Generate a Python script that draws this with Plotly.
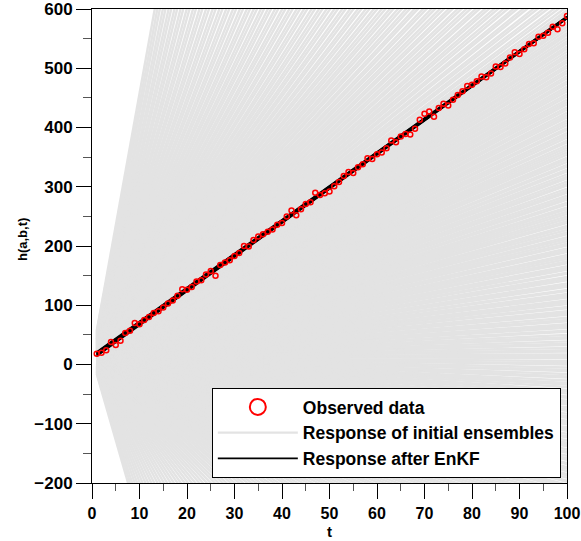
import plotly.graph_objects as go

# ---------------- data ----------------
T_OBS = list(range(1, 101))
H_OBS = [18, 20, 24, 38, 33, 40, 53, 57, 70, 68,
         75, 80, 87, 90, 96, 103, 108, 116, 127, 126,
         131, 140, 142, 152, 158, 150, 168, 172, 176, 183,
         188, 200, 199, 210, 216, 220, 224, 228, 236, 239,
         250, 260, 252, 262, 271, 274, 290, 286, 289, 292,
         301, 308, 318, 325, 323, 333, 338, 348, 347, 355,
         358, 365, 378, 375, 385, 389, 388, 398, 413, 423,
         427, 418, 433, 440, 437, 447, 455, 461, 470, 472,
         478, 486, 485, 491, 503, 502, 508, 518, 527, 524,
         532, 541, 542, 553, 555, 560, 570, 566, 576, 588]

T_START, T_END = 1, 100

# initial ensemble: common intercept, slopes read as a fan
A_INIT = 12
B_INIT_MID = [-2.18, -2.15, -2.10, -2.08, -2.03, -1.99, -1.97, -1.92, -1.88, -1.85, -1.80, -1.78, -1.73, -1.70,
              -1.66, -1.61, -1.59, -1.55, -1.50, -1.47, -1.44, -1.40, -1.35, -1.33, -1.29, -1.24, -1.21, -1.18,
              -1.13, -1.10, -1.07, -1.02, -0.99, -0.95, -0.90, -0.88, -0.84, -0.79, -0.76, -0.73, -0.68, -0.66,
              -0.61, -0.57, -0.55, -0.50, -0.46, -0.43, -0.39, -0.34, -0.32, -0.28, -0.23, -0.21, -0.17, -0.12,
              -0.10, -0.06, -0.01, 0.02, 0.05, 0.10, 0.12, 0.16, 0.21, 0.23, 0.27, 0.32, 0.34, 0.38, 0.43, 0.45,
              0.50, 0.53, 0.56, 0.61, 0.63, 0.67, 0.72, 0.75, 0.78, 0.83, 0.85, 0.90, 0.93, 0.96, 1.01, 1.04,
              1.07, 1.12, 1.14, 1.19, 1.22, 1.25, 1.30, 1.33, 1.36, 1.41, 1.43, 1.48, 1.51, 1.54, 1.59, 1.62,
              1.66, 1.70, 1.73, 1.78, 1.81, 1.84, 1.89, 1.92, 1.96, 2.00, 2.03, 2.08, 2.11, 2.15, 2.19, 2.22,
              2.27, 2.30, 2.34, 2.38, 2.42, 2.46, 2.50, 2.53, 2.58, 2.61, 2.66, 2.69, 2.73, 2.78, 2.81, 2.85,
              2.90, 2.93, 2.97, 3.02, 3.05, 3.09, 3.14, 3.17, 3.22, 3.25, 3.30, 3.34, 3.37, 3.42, 3.46, 3.50,
              3.54, 3.58, 3.63, 3.66, 3.71, 3.75, 3.79, 3.84, 3.87, 3.92, 3.96, 4.00, 4.05, 4.09, 4.13, 4.18,
              4.22, 4.27, 4.31, 4.35, 4.40, 4.44, 4.49, 4.53, 4.57, 4.62, 4.66, 4.71, 4.75, 4.80, 4.84, 4.89,
              4.93, 4.98, 5.02, 5.07, 5.11, 5.16, 5.21, 5.25, 5.30, 5.34, 5.39, 5.44, 5.48, 5.53, 5.58, 5.62,
              5.67, 5.72, 5.76, 5.81, 5.86]
B_INIT_UP = [5.92, 5.99, 6.05, 6.13, 6.19, 6.27, 6.33, 6.42, 6.48, 6.57, 6.63, 6.72, 6.79, 6.88, 6.95, 7.04,
             7.11, 7.21, 7.28, 7.38, 7.46, 7.56, 7.64, 7.75, 7.83, 7.94, 8.03, 8.14, 8.23, 8.35, 8.44, 8.57,
             8.66, 8.79, 8.89, 9.02, 9.13, 9.27, 9.38, 9.52, 9.64, 9.79, 9.91, 10.07, 10.20, 10.37, 10.50,
             10.68, 10.82, 11.01, 11.16, 11.36, 11.52, 11.73, 11.90, 12.12, 12.30, 12.53, 12.72, 12.97, 13.17,
             13.43, 13.64, 13.92, 14.15, 14.44, 14.68, 15.00, 15.26, 15.60, 15.88, 16.24, 16.54, 16.93, 17.26,
             17.68, 18.03, 18.49, 18.88, 19.38, 19.80, 20.35, 20.81, 21.41, 21.92, 22.58, 23.14, 23.87, 24.49,
             25.30, 25.98, 26.88, 27.64, 28.64, 29.49, 30.60, 31.55, 32.79, 33.86, 35.25, 36.46, 38.02, 39.40,
             41.17, 42.75, 44.5]
B_INIT_LOW = [-2.22, -2.27, -2.31, -2.36, -2.41, -2.45, -2.50, -2.55, -2.60, -2.65, -2.70, -2.76, -2.81, -2.87,
              -2.92, -2.98, -3.04, -3.10, -3.17, -3.23, -3.30, -3.37, -3.44, -3.51, -3.59, -3.66, -3.74, -3.82,
              -3.91, -3.99, -4.08, -4.17, -4.27, -4.36, -4.46, -4.57, -4.67, -4.78, -4.90, -5.01, -5.14, -5.26,
              -5.40, -5.53, -5.68, -5.82, -5.98, -6.14, -6.31, -6.48, -6.67, -6.85, -7.06, -7.26, -7.49, -7.71,
              -7.96, -8.21, -8.49, -8.77, -9.08, -9.39, -9.74, -10.09, -10.48, -10.88, -11.33, -11.78, -12.29,
              -12.81, -13.40, -14.00, -14.68, -15.38, -16.17, -16.98, -17.90, -18.85, -19.92, -21.03, -22.28,
              -23.57, -25.02, -26.40, -27.9]

# ensemble after EnKF (intercept, slope pairs)
A_ENKF = [8.5, 9.5, 10.5, 11.5, 12.5, 13.5, 14.5, 15.5, 11.0, 13.0]
B_ENKF = [5.755, 5.750, 5.745, 5.740, 5.735, 5.730, 5.725, 5.720, 5.750, 5.715]

X_TICKS = [0, 10, 20, 30, 40, 50, 60, 70, 80, 90, 100]
Y_TICKS = [-200, -100, 0, 100, 200, 300, 400, 500, 600]
X_TITLE = "t"
Y_TITLE = "h(a,b,t)"

# ---------------- build ----------------
FONT = "Liberation Sans, Arial, Helvetica, sans-serif"


def lines_xy(intercepts, slopes):
    xs, ys = [], []
    for a, b in zip(intercepts, slopes):
        xs += [T_START, T_END, None]
        ys += [a + b * T_START, a + b * T_END, None]
    return xs, ys


b_all = B_INIT_LOW + B_INIT_MID + B_INIT_UP
gx, gy = lines_xy([A_INIT] * len(b_all), b_all)
ex, ey = lines_xy(A_ENKF, B_ENKF)

fig = go.Figure()
fig.add_trace(go.Scatter(x=gx, y=gy, mode="lines", name="Response of initial ensembles",
                         line=dict(color="#e3e3e3", width=2.4), legendrank=2, hoverinfo="skip"))
fig.add_trace(go.Scatter(x=ex, y=ey, mode="lines", name="Response after EnKF",
                         line=dict(color="black", width=1.8), legendrank=3))
fig.add_trace(go.Scatter(x=T_OBS, y=H_OBS, mode="markers", name="Observed data", showlegend=False,
                         marker=dict(symbol="circle-open", size=5, color="#ff0000", line=dict(width=1.5))))
fig.add_trace(go.Scatter(x=[None], y=[None], mode="markers", name="Observed data", legendrank=1,
                         marker=dict(symbol="circle-open", size=16, color="#ff0000", line=dict(width=2))))

axis_common = dict(showline=True, linecolor="black", linewidth=1, mirror=True, showgrid=False,
                   zeroline=False, ticks="outside", ticklen=15, tickwidth=1, tickcolor="black",
                   automargin=False, ticklabeloverflow="allow")

fig.update_xaxes(range=[0, 100], tickvals=X_TICKS, ticklabelstandoff=1,
                 tickfont=dict(family=FONT, size=16, color="black", weight="bold"),
                 minor=dict(ticks="outside", ticklen=7, dtick=5, tickcolor="#555", showgrid=False),
                 **axis_common)
fig.update_yaxes(range=[-200, 600], tickvals=Y_TICKS,
                 tickfont=dict(family=FONT, size=17, color="black", weight="bold"),
                 minor=dict(ticks="outside", ticklen=8, dtick=50, tickcolor="#555", showgrid=False),
                 **axis_common)

PLOT_H = 541 - 9 - 58
PLOT_W = 581 - 92 - 14
fig.add_annotation(text=X_TITLE, xref="paper", yref="paper", x=0.5, y=-58 / PLOT_H,
                   xanchor="center", yanchor="bottom", showarrow=False, borderpad=0,
                   font=dict(family=FONT, size=15, color="black", weight="bold"))
fig.add_annotation(text=Y_TITLE, xref="paper", yref="paper", x=-70 / PLOT_W, y=243 / PLOT_H,
                   xanchor="center", yanchor="middle", showarrow=False, textangle=-90,
                   font=dict(family=FONT, size=13, color="black", weight="bold"))

fig.update_layout(
    width=581, height=541,
    margin=dict(l=92, r=14, t=9, b=58),
    plot_bgcolor="white", paper_bgcolor="white",
    legend=dict(x=0.987, xanchor="right", y=0.0105, yanchor="bottom",
                bgcolor="white", bordercolor="black", borderwidth=1,
                font=dict(family=FONT, size=17.5, color="black", weight="bold"),
                itemwidth=80, tracegroupgap=0),
)

fig.write_html("out.html")
